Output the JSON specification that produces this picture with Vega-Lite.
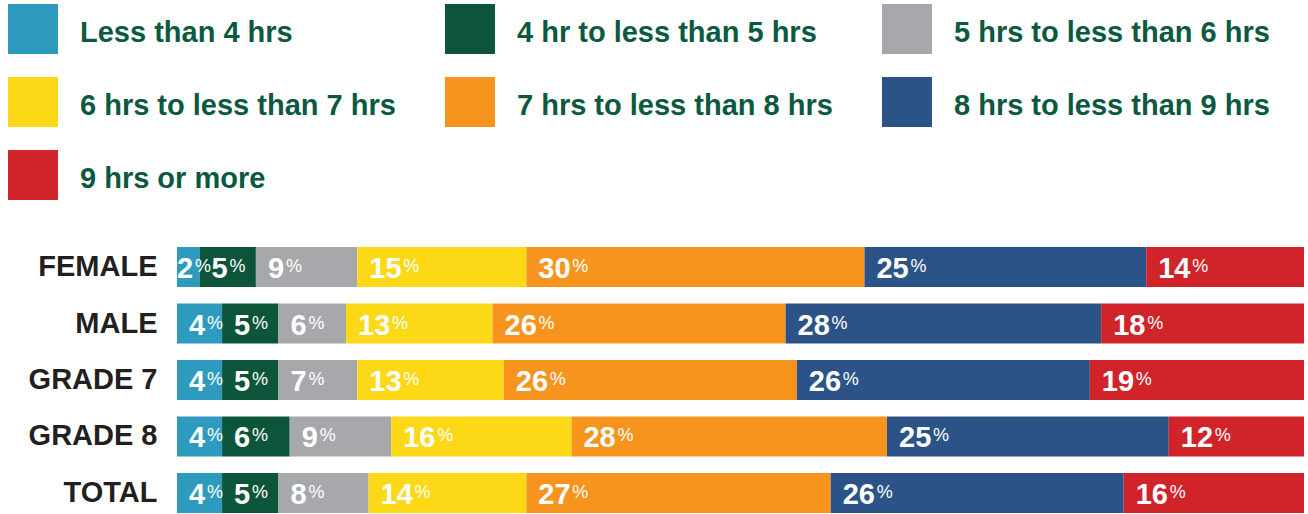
{
  "$schema": "https://vega.github.io/schema/vega-lite/v6.json",
  "width": 1127,
  "height": 266,
  "autosize": {"type": "none"},
  "padding": {"left": 177, "top": 247, "right": 4, "bottom": 1},
  "background": "white",
  "config": {
    "view": {"stroke": null},
    "font": "Liberation Sans"
  },
  "data": {
    "values": [
      {"group": "FEMALE", "k": 1, "cat": "Less than 4 hrs", "v": 2},
      {"group": "FEMALE", "k": 2, "cat": "4 hr to less than 5 hrs", "v": 5},
      {"group": "FEMALE", "k": 3, "cat": "5 hrs to less than 6 hrs", "v": 9},
      {"group": "FEMALE", "k": 4, "cat": "6 hrs to less than 7 hrs", "v": 15},
      {"group": "FEMALE", "k": 5, "cat": "7 hrs to less than 8 hrs", "v": 30},
      {"group": "FEMALE", "k": 6, "cat": "8 hrs to less than 9 hrs", "v": 25},
      {"group": "FEMALE", "k": 7, "cat": "9 hrs or more", "v": 14},
      {"group": "MALE", "k": 1, "cat": "Less than 4 hrs", "v": 4},
      {"group": "MALE", "k": 2, "cat": "4 hr to less than 5 hrs", "v": 5},
      {"group": "MALE", "k": 3, "cat": "5 hrs to less than 6 hrs", "v": 6},
      {"group": "MALE", "k": 4, "cat": "6 hrs to less than 7 hrs", "v": 13},
      {"group": "MALE", "k": 5, "cat": "7 hrs to less than 8 hrs", "v": 26},
      {"group": "MALE", "k": 6, "cat": "8 hrs to less than 9 hrs", "v": 28},
      {"group": "MALE", "k": 7, "cat": "9 hrs or more", "v": 18},
      {"group": "GRADE 7", "k": 1, "cat": "Less than 4 hrs", "v": 4},
      {"group": "GRADE 7", "k": 2, "cat": "4 hr to less than 5 hrs", "v": 5},
      {"group": "GRADE 7", "k": 3, "cat": "5 hrs to less than 6 hrs", "v": 7},
      {"group": "GRADE 7", "k": 4, "cat": "6 hrs to less than 7 hrs", "v": 13},
      {"group": "GRADE 7", "k": 5, "cat": "7 hrs to less than 8 hrs", "v": 26},
      {"group": "GRADE 7", "k": 6, "cat": "8 hrs to less than 9 hrs", "v": 26},
      {"group": "GRADE 7", "k": 7, "cat": "9 hrs or more", "v": 19},
      {"group": "GRADE 8", "k": 1, "cat": "Less than 4 hrs", "v": 4},
      {"group": "GRADE 8", "k": 2, "cat": "4 hr to less than 5 hrs", "v": 6},
      {"group": "GRADE 8", "k": 3, "cat": "5 hrs to less than 6 hrs", "v": 9},
      {"group": "GRADE 8", "k": 4, "cat": "6 hrs to less than 7 hrs", "v": 16},
      {"group": "GRADE 8", "k": 5, "cat": "7 hrs to less than 8 hrs", "v": 28},
      {"group": "GRADE 8", "k": 6, "cat": "8 hrs to less than 9 hrs", "v": 25},
      {"group": "GRADE 8", "k": 7, "cat": "9 hrs or more", "v": 12},
      {"group": "TOTAL", "k": 1, "cat": "Less than 4 hrs", "v": 4},
      {"group": "TOTAL", "k": 2, "cat": "4 hr to less than 5 hrs", "v": 5},
      {"group": "TOTAL", "k": 3, "cat": "5 hrs to less than 6 hrs", "v": 8},
      {"group": "TOTAL", "k": 4, "cat": "6 hrs to less than 7 hrs", "v": 14},
      {"group": "TOTAL", "k": 5, "cat": "7 hrs to less than 8 hrs", "v": 27},
      {"group": "TOTAL", "k": 6, "cat": "8 hrs to less than 9 hrs", "v": 26},
      {"group": "TOTAL", "k": 7, "cat": "9 hrs or more", "v": 16}
    ]
  },
  "transform": [
    {"stack": "v", "groupby": ["group"], "sort": [{"field": "k", "order": "ascending"}], "as": ["x0", "x1"]}
  ],
  "encoding": {
    "y": {
      "field": "group",
      "type": "nominal",
      "sort": ["FEMALE", "MALE", "GRADE 7", "GRADE 8", "TOTAL"],
      "scale": {"paddingInner": 0.292, "paddingOuter": 0},
      "axis": {
        "title": null,
        "domain": false,
        "ticks": false,
        "labelFont": "Liberation Sans",
        "labelFontSize": 29,
        "labelFontWeight": "bold",
        "labelColor": "#231f20",
        "labelPadding": 20
      }
    }
  },
  "layer": [
    {
      "mark": {"type": "bar", "cornerRadius": 0},
      "encoding": {
        "x": {"field": "x0", "type": "quantitative", "scale": {"domain": [0, 100], "nice": false, "zero": true}, "axis": null},
        "x2": {"field": "x1"},
        "color": {
          "field": "cat",
          "type": "nominal",
          "scale": {
            "domain": ["Less than 4 hrs", "4 hr to less than 5 hrs", "5 hrs to less than 6 hrs", "6 hrs to less than 7 hrs", "7 hrs to less than 8 hrs", "8 hrs to less than 9 hrs", "9 hrs or more"],
            "range": ["#2e9bbe", "#0c553b", "#a7a8ab", "#fcd817", "#f7941e", "#2b5388", "#d1232a"]
          },
          "legend": {
            "title": null,
            "orient": "none",
            "legendX": -169,
            "legendY": -243,
            "direction": "horizontal",
            "columns": 3,
            "symbolType": "square",
            "symbolSize": 2500,
            "symbolStrokeWidth": 0,
            "symbolOpacity": 1,
            "labelFont": "Liberation Sans",
            "labelFontSize": 29,
            "labelFontWeight": "bold",
            "labelColor": "#0b5a3f",
            "labelOffset": 22,
            "labelLimit": 500,
            "columnPadding": 49,
            "rowPadding": 23,
            "encode": {"labels": {"update": {"dy": {"value": 4}}}}
          }
        }
      }
    },
    {
      "transform": [{"filter": "datum.v >= 3"}],
      "mark": {"type": "text", "align": "left", "baseline": "alphabetic", "dx": 12, "dy": 11, "font": "Liberation Sans", "fontSize": 29, "fontWeight": "bold", "color": "white"},
      "encoding": {
        "x": {"field": "x0", "type": "quantitative"},
        "text": {"field": "v", "type": "quantitative", "format": "d"}
      }
    },
    {
      "transform": [{"filter": "datum.v < 3"}],
      "mark": {"type": "text", "align": "left", "baseline": "alphabetic", "dx": 0, "dy": 11, "font": "Liberation Sans", "fontSize": 29, "fontWeight": "bold", "color": "white"},
      "encoding": {
        "x": {"field": "x0", "type": "quantitative"},
        "text": {"field": "v", "type": "quantitative", "format": "d"}
      }
    },
    {
      "transform": [{"filter": "datum.v < 3"}],
      "mark": {"type": "text", "align": "left", "baseline": "alphabetic", "dx": 18, "dy": 5, "font": "Liberation Sans", "fontSize": 18, "color": "white", "text": "%"},
      "encoding": {
        "x": {"field": "x0", "type": "quantitative"}
      }
    },
    {
      "transform": [{"filter": "datum.v >= 3 && datum.v < 10"}],
      "mark": {"type": "text", "align": "left", "baseline": "alphabetic", "dx": 30, "dy": 5, "font": "Liberation Sans", "fontSize": 18, "color": "white", "text": "%"},
      "encoding": {
        "x": {"field": "x0", "type": "quantitative"}
      }
    },
    {
      "transform": [{"filter": "datum.v >= 10"}],
      "mark": {"type": "text", "align": "left", "baseline": "alphabetic", "dx": 46, "dy": 5, "font": "Liberation Sans", "fontSize": 18, "color": "white", "text": "%"},
      "encoding": {
        "x": {"field": "x0", "type": "quantitative"}
      }
    }
  ]
}
